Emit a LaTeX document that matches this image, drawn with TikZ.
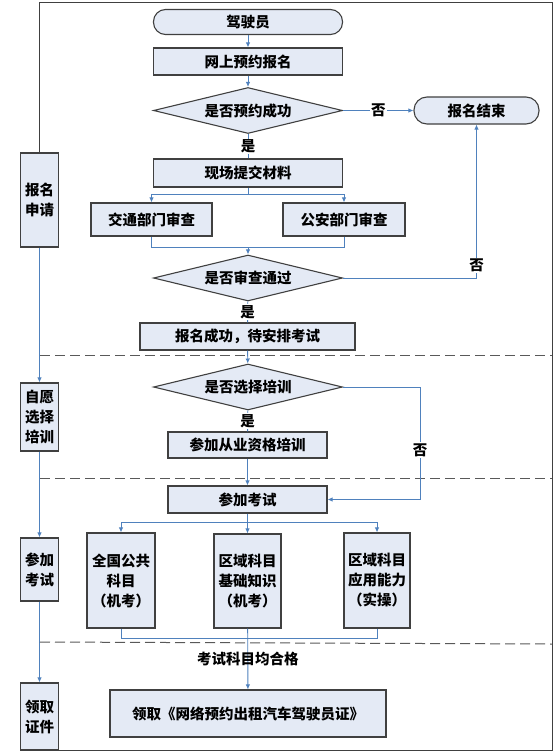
\documentclass[tikz,border=0pt]{standalone}
\usepackage{fontspec}
\setmainfont{Noto Sans CJK SC}
\usetikzlibrary{shapes.geometric,arrows.meta}
\definecolor{boxfill}{RGB}{228,234,245}
\definecolor{boxline}{RGB}{64,64,64}
\definecolor{flowblue}{RGB}{79,129,189}
\begin{document}
\begin{tikzpicture}[x=1pt,y=-1pt,
  font=\fontsize{14.5}{20}\selectfont\bfseries,
  stepbox/.style={draw=boxline,fill=boxfill,line width=1.1pt,align=center,inner sep=0pt},
  startbox/.style={stepbox,rounded corners=12pt},
  askbox/.style={stepbox,diamond,aspect=4,minimum width=189pt,minimum height=46pt},
  lanebox/.style={stepbox,minimum width=38pt},
  flow/.style={draw=flowblue,line width=0.9pt},
  arr/.style={flow,-{Latex[length=5pt,width=4.5pt]}},
  lbl/.style={fill=white,inner sep=1pt},
  sep/.style={draw=gray!70!black,dash pattern=on 10pt off 5pt,line width=1pt}]
  \useasboundingbox (0,0) rectangle (553,752);
  % lanes on the left
  \node[lanebox,minimum height=94pt] (lane1) at (39.5,200) {报名\\申请};
  \node[lanebox,minimum height=68pt] (lane2) at (39.5,417) {自愿\\选择\\培训};
  \node[lanebox,minimum height=63pt] (lane3) at (39.5,569.5) {参加\\考试};
  \node[lanebox,minimum height=67pt] (lane4) at (39.5,716.5) {领取\\证件};
  \draw[draw=boxline,line width=1pt] (lane1.north) |- (552,3) |- (lane4.south);
  \draw[arr] (lane1) -- (lane2);
  \draw[arr] (lane2) -- (lane3);
  \draw[arr] (lane3) -- (lane4);
  \draw[sep] (40,355) -- (552,355);
  \draw[sep] (40,478) -- (552,478);
  \draw[sep] (40,642) -- (552,644);
  % application
  \node[startbox,minimum width=189pt,minimum height=25pt] (driver) at (248,22) {驾驶员};
  \node[stepbox,minimum width=189pt,minimum height=27pt] (online) at (248,61.5) {网上预约报名};
  \node[askbox] (ask1) at (248,110.5) {是否预约成功};
  \node[startbox,minimum width=125pt,minimum height=27pt,rounded corners=13pt] (done) at (476.5,110.5) {报名结束};
  \node[stepbox,minimum width=189pt,minimum height=28pt] (submit) at (248,173) {现场提交材料};
  \node[stepbox,minimum width=121pt,minimum height=33pt] (traffic) at (151.5,219.5) {交通部门审查};
  \node[stepbox,minimum width=122pt,minimum height=33pt] (police) at (344,219.5) {公安部门审查};
  \node[askbox] (ask2) at (248,278) {是否审查通过};
  \node[stepbox,minimum width=215pt,minimum height=27pt] (wait) at (247.5,336.5) {报名成功，待安排考试};
  \coordinate (split1) at (248,194);
  \coordinate (merge1) at (248,247);
  \draw[arr] (driver) -- (online);
  \draw[arr] (online) -- (ask1);
  \draw[arr] (ask1) -- node[lbl] {否} (done);
  \draw[flow] (ask1) -- node[lbl] {是} (submit);
  \draw[flow] (submit) -- (split1);
  \draw[arr] (split1) -| (traffic);
  \draw[arr] (split1) -| (police);
  \draw[flow] (traffic) |- (merge1);
  \draw[flow] (police) |- (merge1);
  \draw[arr] (merge1) -- (ask2);
  \draw[arr] (ask2) -| node[lbl,pos=0.54] {否} (done);
  \draw[flow] (ask2) -- node[lbl] {是} (wait);
  % training
  \node[askbox] (ask3) at (248,387) {是否选择培训};
  \node[stepbox,minimum width=159pt,minimum height=26pt] (train) at (247.5,445) {参加从业资格培训};
  \node[stepbox,minimum width=159pt,minimum height=27pt] (exam) at (247.5,499.5) {参加考试};
  \coordinate (skip) at (420,387);
  \draw[arr] (wait) -- (ask3);
  \draw[flow] (ask3) -- node[lbl] {是} (train);
  \draw[arr] (train) -- (exam);
  \draw[arr] (ask3) -- (skip) |- node[lbl,pos=0.28] {否} (exam);
  % exams
  \node[stepbox,minimum width=68pt,minimum height=95pt] (sub1) at (121,580.5) {全国公共\\科目\\（机考）};
  \node[stepbox,minimum width=67pt,minimum height=94pt] (sub2) at (247.5,581) {区域科目\\基础知识\\（机考）};
  \node[stepbox,minimum width=66pt,minimum height=95pt] (sub3) at (377,580.5) {区域科目\\应用能力\\（实操）};
  \node[stepbox,minimum width=276pt,minimum height=47pt] (cert) at (248,713.5) {领取《网络预约出租汽车驾驶员证》};
  \coordinate (split2) at (247.5,522);
  \coordinate (merge2) at (247.5,638);
  \draw[arr] (exam) -- (sub2);
  \draw[arr] (split2) -| (sub1);
  \draw[arr] (split2) -| (sub3);
  \draw[flow] (sub1) |- (merge2);
  \draw[flow] (sub3) |- (merge2);
  \draw[arr] (sub2) -- node {考试科目均合格} (cert);
\end{tikzpicture}
\end{document}
